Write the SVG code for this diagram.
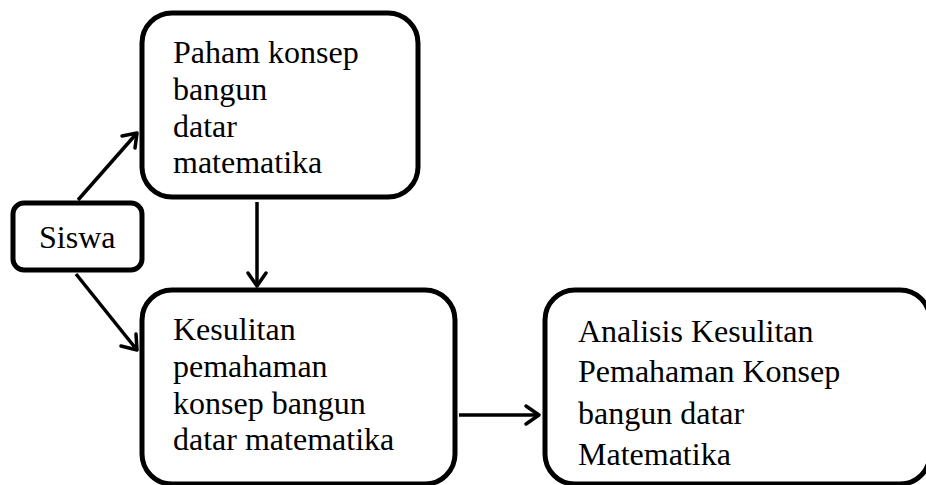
<svg xmlns="http://www.w3.org/2000/svg" width="926" height="485" viewBox="0 0 926 485">
<style>
.box{fill:#fff;stroke:#000;stroke-width:5}
.t{font-family:"Liberation Serif","Times New Roman",Times,serif;font-size:32px;fill:#000}
.c{fill:none;stroke:#000;stroke-width:3.5}
.h{fill:none;stroke:#000;stroke-width:3.5;stroke-linecap:round;stroke-linejoin:round}
</style>
<rect width="926" height="485" fill="#fff"/>
<g id="connectors">
<line class="c" x1="78" y1="200" x2="137" y2="133"/>
<polyline class="h" points="122,136 137,133 135,148"/>
<line class="c" x1="76" y1="274" x2="137" y2="350"/>
<polyline class="h" points="121,346 137,350 136,334"/>
<line class="c" x1="257" y1="202" x2="257" y2="286"/>
<polyline class="h" points="248,273 257,286 266,273"/>
<line class="c" x1="459" y1="415" x2="539" y2="415"/>
<polyline class="h" points="526,406 539,415 526,424"/>
</g>
<g id="paham">
<rect class="box" x="142" y="13" width="276" height="184" rx="30"/>
<text class="t" x="173" y="63">Paham konsep</text>
<text class="t" x="173" y="100">bangun</text>
<text class="t" x="173" y="137">datar</text>
<text class="t" x="173" y="173">matematika</text>
</g>
<g id="siswa">
<rect class="box" x="13" y="203" width="129" height="67" rx="11"/>
<text class="t" x="39" y="248">Siswa</text>
</g>
<g id="kesulitan">
<rect class="box" x="142" y="290" width="313" height="194" rx="30"/>
<text class="t" x="173" y="340">Kesulitan</text>
<text class="t" x="173" y="377">pemahaman</text>
<text class="t" x="173" y="414">konsep bangun</text>
<text class="t" x="173" y="450">datar matematika</text>
</g>
<g id="analisis">
<rect class="box" x="545" y="290" width="385" height="194" rx="30"/>
<text class="t" x="578" y="342">Analisis Kesulitan</text>
<text class="t" x="578" y="382">Pemahaman Konsep</text>
<text class="t" x="578" y="424">bangun datar</text>
<text class="t" x="578" y="465">Matematika</text>
</g>
</svg>
